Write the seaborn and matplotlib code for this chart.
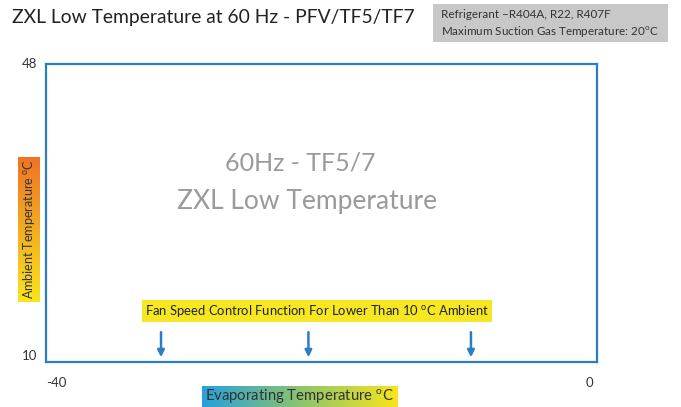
import numpy as np
import matplotlib
matplotlib.use("Agg")
import matplotlib.pyplot as plt
import matplotlib.transforms as mtransforms
import seaborn as sns
from matplotlib.colors import LinearSegmentedColormap

# ---- data ----
x_ticks = [-40, 0]
y_ticks = [10, 48]
x_tick_labels = ["-40", "0"]
y_tick_labels = ["10", "48"]
arrow_x = [-31.65, -20.95, -9.15]
arrow_y_start = 13.8
arrow_y_end = 10.6
title = "ZXL Low Temperature at 60 Hz - PFV/TF5/TF7"
info_lines = ["Refrigerant \u2013R404A, R22, R407F",
              "Maximum Suction Gas Temperature: 20$^{\\mathregular{o}}$C"]
center_line1 = "60Hz - TF5/7"
center_line2 = "ZXL Low Temperature"
fan_note = "Fan Speed Control Function For Lower Than 10 $^{\\mathregular{o}}$C Ambient"
x_label = "Evaporating Temperature $^{\\mathregular{o}}$C"
y_label = "Ambient Temperature $^{\\mathregular{o}}$C"

sns.set_theme(style="white")
FONT = "Lato"
plt.rcParams["font.family"] = [FONT, "DejaVu Sans"]
plt.rcParams["mathtext.fontset"] = "custom"
plt.rcParams["mathtext.rm"] = FONT

BLUE = "#2b7dc4"
W, H = 681, 407
fig = plt.figure(figsize=(W / 100, H / 100), dpi=100)

def fx(px):
    return px / W

def fy(py):
    return 1 - py / H

ax = fig.add_axes([fx(46), fy(362), fx(597) - fx(46), fy(64) - fy(362)])
ax.set_xlim(x_ticks[0], x_ticks[-1])
ax.set_ylim(y_ticks[0], y_ticks[-1])
sns.despine(ax=ax, top=False, right=False, left=False, bottom=False)
for s in ax.spines.values():
    s.set_color(BLUE)
    s.set_linewidth(1.6)

ax.set_xticks(x_ticks)
ax.set_xticklabels(x_tick_labels)
ax.set_yticks(y_ticks)
ax.set_yticklabels(y_tick_labels)
ax.tick_params(axis="both", length=0, labelsize=9.5, colors="#333333")
ax.tick_params(axis="x", pad=11)
ax.tick_params(axis="y", pad=6)
xl = ax.get_xticklabels()
xl[0].set_ha("left")
xl[1].set_ha("right")
xl[1].set_transform(xl[1].get_transform() +
                    mtransforms.ScaledTranslation(-4 / 100, 0, fig.dpi_scale_trans))
yl = ax.get_yticklabels()
yl[0].set_va("bottom")
yl[1].set_va("center")

# center text
ax.text(0.461, 0.668, center_line1, transform=ax.transAxes, ha="center", va="center",
        fontsize=18, color="#9a9a9a")
ax.text(0.474, 0.540, center_line2, transform=ax.transAxes, ha="center", va="center",
        fontsize=19, color="#9a9a9a")

# fan note box
ax.text(0.492, 0.171, fan_note, transform=ax.transAxes, ha="center", va="center",
        fontsize=9.4, color="#222222",
        bbox=dict(boxstyle="square,pad=0.25", fc="#f7e723", ec="none"))

# arrows
for xa in arrow_x:
    ax.annotate("", xy=(xa, arrow_y_end), xytext=(xa, arrow_y_start),
                arrowprops=dict(arrowstyle="-|>", color=BLUE, lw=1.8,
                                mutation_scale=10, shrinkA=0, shrinkB=0))

# title
fig.text(fx(12), fy(17.5), title, ha="left", va="center", fontsize=13.9, color="#222222")

# info box
fig.patches.append(plt.Rectangle((fx(433), fy(42)), fx(668) - fx(433), fy(4) - fy(42),
                                 transform=fig.transFigure, fc="#c8c8c8", ec="none"))
fig.text(fx(441), fy(15), info_lines[0], ha="left", va="center", fontsize=8.4, color="#333333")
fig.text(fx(441), fy(32), info_lines[1], ha="left", va="center", fontsize=8.4, color="#333333")

# y label gradient box
cmap_y = LinearSegmentedColormap.from_list("yg", ["#ee7426", "#f8e51c"])
yax = fig.add_axes([fx(18), fy(302), fx(40) - fx(18), fy(157) - fy(302)])
yax.imshow(np.linspace(0, 1, 256).reshape(-1, 1), aspect="auto", cmap=cmap_y, origin="upper")
yax.set_axis_off()
yax.text(0.5, 0.5, y_label, transform=yax.transAxes, rotation=90, ha="center", va="center",
         fontsize=9, color="#333333")

# x label gradient box
cmap_x = LinearSegmentedColormap.from_list("xg", ["#27a0dc", "#8cc46e", "#f8e51c"])
xax = fig.add_axes([fx(202), fy(407), fx(397) - fx(202), fy(386) - fy(407)])
xax.imshow(np.linspace(0, 1, 256).reshape(1, -1), aspect="auto", cmap=cmap_x)
xax.set_axis_off()
xax.text(0.5, 0.5, x_label, transform=xax.transAxes, ha="center", va="center",
         fontsize=10.7, color="#333333")

fig.savefig("out.png", dpi=100)
